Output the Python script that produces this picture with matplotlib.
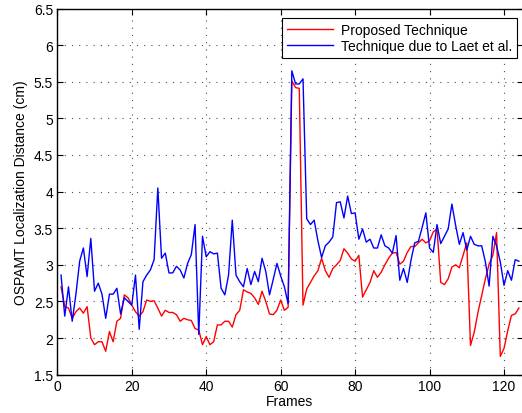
import matplotlib.pyplot as plt
import numpy as np

plt.rc("font", family=["Liberation Sans", "DejaVu Sans"], size=10)

frames = np.arange(1, 125)

proposed = [
    2.70, 2.43, 2.41, 2.27, 2.36, 2.41, 2.34, 2.43, 2.00, 1.91,
    1.95, 1.95, 1.82, 2.09, 1.95, 2.23, 2.27, 2.59, 2.55, 2.45,
    2.36, 2.30, 2.36, 2.52, 2.50, 2.51, 2.41, 2.30, 2.38, 2.35,
    2.35, 2.32, 2.23, 2.27, 2.25, 2.24, 2.13, 2.11, 1.91, 2.02,
    1.91, 1.95, 2.18, 2.18, 2.23, 2.23, 2.15, 2.32, 2.38, 2.66,
    2.63, 2.61, 2.55, 2.46, 2.64, 2.50, 2.33, 2.32, 2.38, 2.52,
    2.38, 2.42, 5.51, 5.42, 5.41, 2.45, 2.67, 2.76, 2.85, 2.92,
    3.09, 2.92, 2.83, 2.95, 3.00, 3.06, 3.22, 3.16, 3.08, 3.05,
    3.13, 2.56, 2.66, 2.76, 2.92, 2.83, 2.90, 3.00, 3.09, 3.16,
    3.17, 3.01, 3.05, 3.17, 3.25, 3.25, 3.30, 3.35, 3.30, 3.33,
    3.45, 3.49, 2.76, 2.73, 2.81, 2.97, 3.00, 2.96, 3.13, 3.30,
    1.90, 2.08, 2.35, 2.58, 2.81, 3.01, 3.13, 3.44, 1.75, 1.86,
    2.10, 2.31, 2.33, 2.41,
]

laet = [
    2.86, 2.30, 2.70, 2.23, 2.60, 3.05, 3.23, 2.84, 3.36, 2.64,
    2.75, 2.60, 2.27, 2.60, 2.60, 2.68, 2.33, 2.55, 2.50, 2.45,
    2.86, 2.12, 2.77, 2.86, 2.93, 3.07, 4.05, 3.09, 3.16, 2.89,
    2.89, 2.98, 2.93, 2.82, 3.02, 3.14, 3.55, 2.05, 3.39, 3.11,
    3.18, 3.15, 3.16, 2.68, 2.59, 2.86, 3.61, 2.86, 2.77, 2.70,
    2.95, 2.73, 2.91, 2.77, 3.09, 2.91, 2.59, 2.80, 3.02, 2.85,
    2.70, 2.47, 5.65, 5.47, 5.47, 5.54, 3.63, 3.55, 3.61, 3.33,
    3.10, 3.26, 3.31, 3.38, 3.85, 3.86, 3.64, 3.94, 3.70, 3.71,
    3.35, 3.49, 3.31, 3.35, 3.23, 3.23, 3.41, 3.26, 3.23, 3.16,
    3.40, 2.79, 2.95, 2.76, 3.06, 3.30, 3.32, 3.51, 3.71, 3.23,
    3.17, 3.55, 3.29, 3.39, 3.49, 3.83, 3.54, 3.28, 3.44, 3.20,
    3.39, 3.28, 3.26, 3.26, 3.04, 2.71, 3.39, 3.26, 3.04, 2.72,
    2.92, 2.79, 3.07, 3.05,
]

fig = plt.figure(figsize=(5.22, 4.14), dpi=100)
ax = fig.add_axes([0.1098, 0.0925, 0.8914, 0.8845])

ax.plot(frames, proposed, color="#ff0000", linewidth=1.0, label="Proposed Technique")
ax.plot(frames, laet, color="#0000ff", linewidth=1.0, label="Technique due to Laet et al.")

ax.set_xlim(0, 125)
ax.set_ylim(1.5, 6.5)
ax.set_xticks(np.arange(0, 121, 20))
ax.set_yticks(np.arange(1.5, 6.51, 0.5))
ax.set_yticklabels(["1.5", "2", "2.5", "3", "3.5", "4", "4.5", "5", "5.5", "6", "6.5"])
ax.tick_params(direction="in", top=True, right=True, length=4, width=0.8, pad=3)
ax.grid(True, color="0.3", linestyle=(0, (1, 5.5)), linewidth=0.8)

for s in ax.spines.values():
    s.set_linewidth(1.0)

ax.set_xlabel("Frames", labelpad=1)
ax.set_ylabel("OSPAMT Localization Distance (cm)", labelpad=4)

leg = ax.legend(loc="upper right", bbox_to_anchor=(0.988, 0.975), fancybox=False,
                edgecolor="black", framealpha=1, borderaxespad=0,
                handlelength=3.3, handletextpad=0.6, labelspacing=0.2,
                borderpad=0.35)
leg.get_frame().set_linewidth(0.8)

fig.savefig("out.png", dpi=100)
